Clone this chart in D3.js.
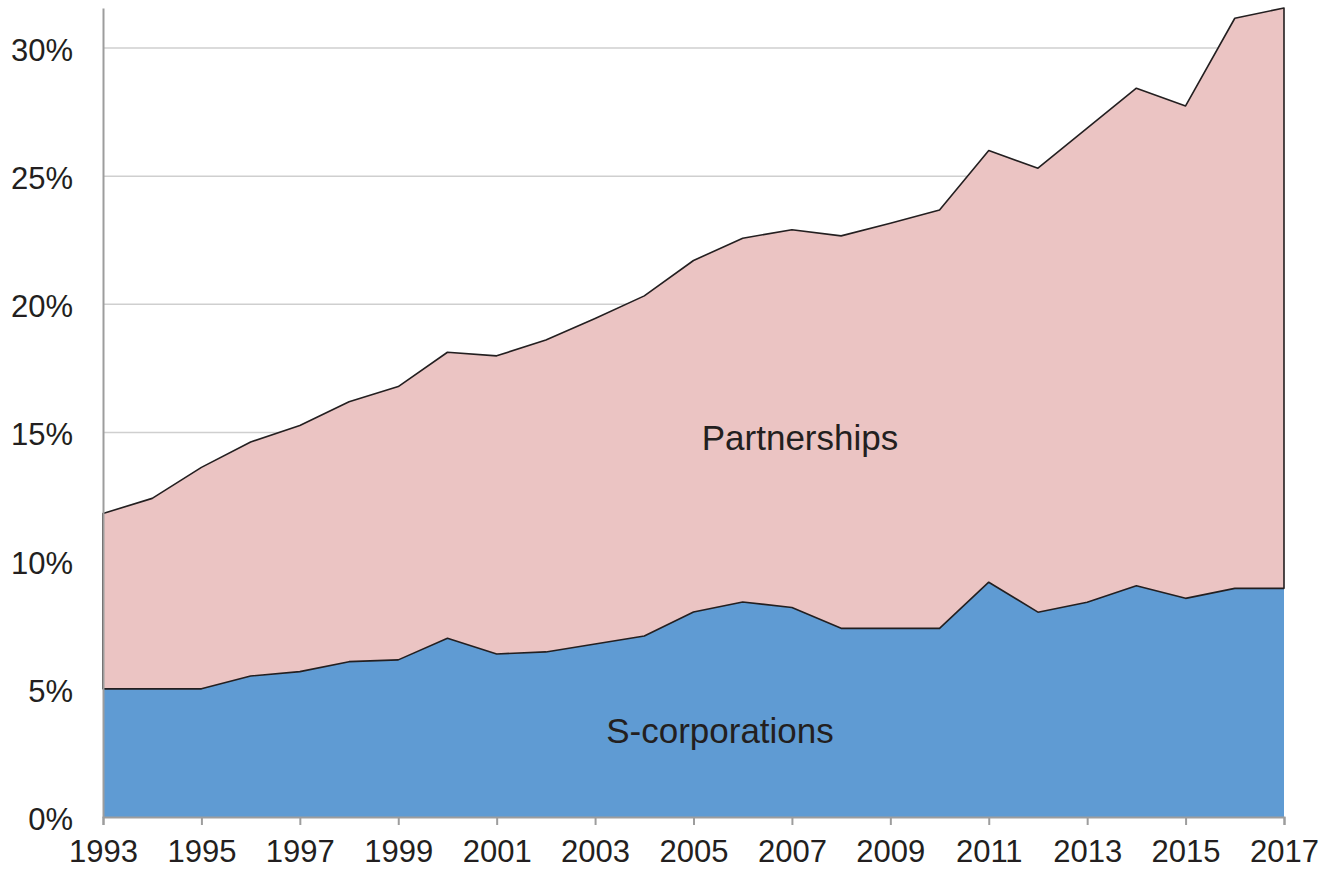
<!DOCTYPE html>
<html>
<head>
<meta charset="utf-8">
<script src="https://cdnjs.cloudflare.com/ajax/libs/d3/7.8.5/d3.min.js"></script>
<style>
  body { margin: 0; background: #fff; }
  svg text { font-family: "Liberation Sans", Arial, sans-serif; fill: #231f20; }
</style>
</head>
<body>
<div id="chart"></div>
<script>
// values, percent of total
var years = [1993, 1994, 1995, 1996, 1997, 1998, 1999, 2000, 2001, 2002, 2003, 2004,
             2005, 2006, 2007, 2008, 2009, 2010, 2011, 2012, 2013, 2014, 2015, 2016, 2017];
var sCorp = [5.0, 5.0, 5.0, 5.5, 5.67, 6.06, 6.13, 6.97, 6.36, 6.44, 6.75, 7.06,
             8.0, 8.39, 8.17, 7.36, 7.36, 7.36, 9.16, 7.99, 8.38, 9.02, 8.53, 8.92, 8.92];
var total = [11.84, 12.43, 13.64, 14.63, 15.27, 16.2, 16.79, 18.13, 17.99, 18.61, 19.45, 20.33,
             21.71, 22.58, 22.91, 22.67, 23.16, 23.68, 26.0, 25.31, 26.87, 28.43, 27.74, 31.16, 31.56];
var yTicks = [0, 5, 10, 15, 20, 25, 30];
var xTicks = [1993, 1995, 1997, 1999, 2001, 2003, 2005, 2007, 2009, 2011, 2013, 2015, 2017];
var seriesNames = ["S-corporations", "Partnerships"];

var width = 1325,
    height = 872,
    margin = {top: 8, right: 41, bottom: 55, left: 103};

var x = d3.scaleLinear().domain([1993, 2017]).range([margin.left, width - margin.right]);
var y = d3.scaleLinear().domain([0, d3.max(total)]).range([height - margin.bottom, margin.top]);

var rows = years.map(function(yr, i) {
    return {year: yr, s: sCorp[i], t: total[i]};
});

var svg = d3.select("#chart").append("svg")
    .attr("width", width)
    .attr("height", height);

// grid lines
svg.append("g").selectAll("line").data(yTicks.filter(function(d) { return d > 0; }))
    .enter().append("line")
    .attr("x1", x(1993)).attr("x2", x(2017))
    .attr("y1", function(d) { return y(d); })
    .attr("y2", function(d) { return y(d); })
    .attr("stroke", "#cfcfcf")
    .attr("stroke-width", 1.5);

var sArea = d3.area()
    .x(function(d) { return x(d.year); })
    .y0(function() { return y(0); })
    .y1(function(d) { return y(d.s); });

var pArea = d3.area()
    .x(function(d) { return x(d.year); })
    .y0(function(d) { return y(d.s); })
    .y1(function(d) { return y(d.t); });

svg.append("path").datum(rows)
    .attr("d", sArea)
    .attr("fill", "#5f9bd3");

svg.append("path").datum(rows)
    .attr("d", pArea)
    .attr("fill", "#ebc4c3")
    .attr("stroke", "#231f20")
    .attr("stroke-width", 1.6)
    .attr("stroke-linejoin", "round");

// axes
var xAxis = svg.append("g")
    .attr("transform", "translate(0," + y(0) + ")")
    .call(d3.axisBottom(x).tickValues(xTicks).tickFormat(d3.format("d")).tickSize(8).tickPadding(8));
xAxis.selectAll("text").style("font-size", "31px").attr("dy", "0.95em");

var yAxis = svg.append("g")
    .attr("transform", "translate(" + x(1993) + ",0)")
    .call(d3.axisLeft(y).tickValues(yTicks).tickFormat(function(d) { return d + "%"; }).tickSize(0).tickPadding(30));
yAxis.selectAll("text").style("font-size", "31px").attr("dy", "0.4em");

svg.selectAll(".domain").attr("stroke", "#9d9d9d").attr("stroke-width", 2);
svg.selectAll(".tick line").attr("stroke", "#9d9d9d").attr("stroke-width", 2);

// series labels
svg.append("text")
    .attr("x", 800).attr("y", 450)
    .attr("text-anchor", "middle")
    .style("font-size", "35px")
    .text(seriesNames[1]);

svg.append("text")
    .attr("x", 720).attr("y", 743)
    .attr("text-anchor", "middle")
    .style("font-size", "35px")
    .text(seriesNames[0]);
</script>
</body>
</html>
